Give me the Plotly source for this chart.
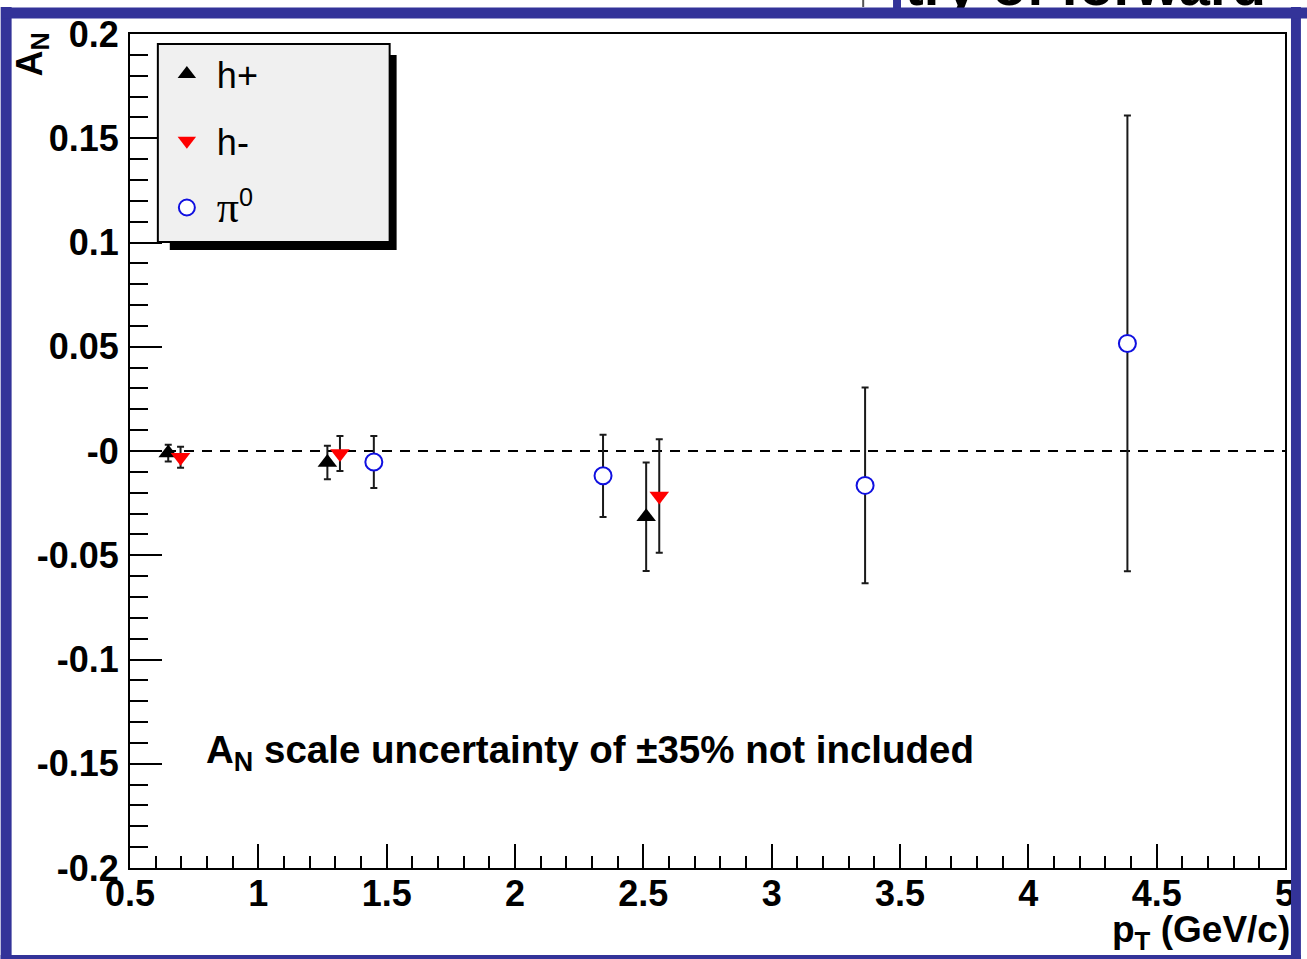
import plotly.graph_objects as go

# ---------------- data ----------------
hp_x = [0.649, 1.269, 2.511]
hp_y = [-0.001, -0.0055, -0.0315]
hp_err = [0.004, 0.008, 0.026]

hm_x = [0.697, 1.318, 2.562]
hm_y = [-0.003, -0.0012, -0.0216]
hm_err = [0.005, 0.0084, 0.0272]

pi_x = [1.450, 2.343, 3.364, 4.386]
pi_y = [-0.0053, -0.0119, -0.0165, 0.0516]
pi_err = [0.0125, 0.0197, 0.0469, 0.1093]

y_tick_vals = [0.2, 0.15, 0.1, 0.05, 0.0, -0.05, -0.1, -0.15, -0.2]
y_tick_text = ["0.2", "0.15", "0.1", "0.05", "-0", "-0.05", "-0.1", "-0.15", "-0.2"]
x_tick_vals = [0.5, 1, 1.5, 2, 2.5, 3, 3.5, 4, 4.5, 5]
x_tick_text = ["0.5", "1", "1.5", "2", "2.5", "3", "3.5", "4", "4.5", "5"]

legend_names = ["h+", "h-",
                "<span style='font-family:Liberation Serif;font-size:44px'>π</span><sup>0</sup>"]

# ---------------- geometry ----------------
FIG_W, FIG_H = 1307, 959
L, R, T, B = 130, 1291, 34, 868
BLUE = "#333399"
FONT = "Liberation Sans"


def px(x):
    return (x - L) / (R - L)


def py(y):
    return (B - y) / (B - T)


def rect(x0, y0, x1, y1, fill, line_w=0, line_c=None, layer="above"):
    return dict(type="rect", xref="paper", yref="paper",
                x0=px(x0), x1=px(x1), y0=py(y1), y1=py(y0),
                fillcolor=fill, layer=layer,
                line=dict(width=line_w, color=line_c or fill))


fig = go.Figure()

err_style = dict(type="data", thickness=2, width=3.5, color="#1a1a1a")

fig.add_trace(go.Scatter(
    x=hp_x, y=hp_y, mode="markers", name=legend_names[0], legendgroup="a",
    error_y=dict(array=hp_err, **err_style),
    marker=dict(symbol="triangle-up", size=17, color="black", line=dict(width=0)),
))
fig.add_trace(go.Scatter(
    x=hm_x, y=hm_y, mode="markers", name=legend_names[1], legendgroup="b",
    error_y=dict(array=hm_err, **err_style),
    marker=dict(symbol="triangle-down", size=17, color="#ff0000", line=dict(width=0)),
))
fig.add_trace(go.Scatter(
    x=pi_x, y=pi_y, mode="markers", name=legend_names[2], legendgroup="c",
    error_y=dict(array=pi_err, **err_style),
    marker=dict(symbol="circle", size=17, color="white",
                line=dict(width=2, color="#1010e0")),
))

shapes = [
    # zero dashed line
    dict(type="line", xref="x", yref="y", x0=0.5, x1=5, y0=0, y1=0,
         line=dict(color="black", width=2, dash="10px,8px"), layer="below"),
    # legend shadow and box
    rect(170, 55, 398, 250, "black"),
    rect(158, 44, 391, 242, "#f0f0f0", 2, "black"),
    # blue slide frame
    rect(0, 7, 11, FIG_H, BLUE),
    rect(1297, 7, FIG_W, FIG_H, BLUE),
    rect(0, 955, FIG_W, FIG_H, BLUE),
    rect(897, 0, 905, 8, BLUE),
    dict(type="line", xref="paper", yref="paper", x0=px(867), x1=px(867),
         y0=py(0), y1=py(7), line=dict(color="#555555", width=2), layer="above"),
]

annotations = [
    # cut-off slide title text at top
    dict(xref="paper", yref="paper", x=px(907), y=py(19), xanchor="left", yanchor="bottom",
         text="try of forward", showarrow=False,
         font=dict(family=FONT, size=56, color="black", weight="bold")),
    # blue band at top (annotation so it covers the text above)
    dict(xref="paper", yref="paper", x=px(0), y=py(7), xanchor="left", yanchor="top",
         text=" ", showarrow=False, width=FIG_W, height=10, bgcolor=BLUE, borderpad=0,
         font=dict(size=4)),
    # y axis title
    dict(xref="paper", yref="paper", x=px(31), y=py(55), xanchor="center", yanchor="middle",
         text="A<sub>N</sub>", textangle=-90, showarrow=False,
         font=dict(family=FONT, size=36, color="black", weight="bold")),
    # x axis title
    dict(xref="paper", yref="paper", x=px(1298), y=py(932), xanchor="right", yanchor="middle",
         text="p<sub>T</sub> (GeV/c)", showarrow=False,
         font=dict(family=FONT, size=37, color="black", weight="bold")),
    # note
    dict(xref="paper", yref="paper", x=px(204), y=py(752), xanchor="left", yanchor="middle",
         text="A<sub>N</sub> scale uncertainty of ±35% not included", showarrow=False,
         font=dict(family=FONT, size=38.5, color="black", weight="bold")),
]

fig.update_layout(
    width=FIG_W, height=FIG_H,
    margin=dict(l=L, r=FIG_W - R, t=T, b=FIG_H - B, pad=0),
    paper_bgcolor="white", plot_bgcolor="white",
    showlegend=True,
    legend=dict(x=px(157), y=py(44), xanchor="left", yanchor="top",
                bgcolor="rgba(0,0,0,0)", borderwidth=0,
                font=dict(family=FONT, size=36, color="black"),
                itemwidth=50, tracegroupgap=17, traceorder="grouped"),
    shapes=shapes,
    annotations=annotations,
    xaxis=dict(range=[0.5, 5], showgrid=False, zeroline=False,
               showline=True, linecolor="black", linewidth=2, mirror=True,
               ticks="inside", ticklen=24, tickwidth=2, tickcolor="black",
               tickvals=x_tick_vals, ticktext=x_tick_text,
               tickfont=dict(family=FONT, size=36, color="black", weight="bold"),
               ticklabelstandoff=-7,
               minor=dict(dtick=0.1, tick0=0.5, ticks="inside", ticklen=12,
                          tickwidth=2, tickcolor="black", showgrid=False)),
    yaxis=dict(range=[-0.2, 0.2], showgrid=False, zeroline=False,
               showline=True, linecolor="black", linewidth=2, mirror=True,
               ticks="inside", ticklen=32, tickwidth=2, tickcolor="black",
               tickvals=y_tick_vals, ticktext=y_tick_text,
               tickfont=dict(family=FONT, size=36, color="black", weight="bold"),
               ticklabelstandoff=2,
               minor=dict(dtick=0.01, tick0=0, ticks="inside", ticklen=18,
                          tickwidth=2, tickcolor="black", showgrid=False)),
)

fig.write_html("out.html")
